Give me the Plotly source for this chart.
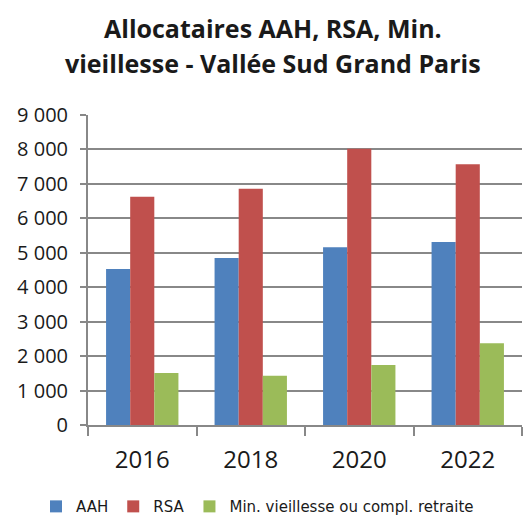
import plotly.graph_objects as go

years = ["2016", "2018", "2020", "2022"]
aah = [4530, 4850, 5160, 5310]
rsa = [6630, 6860, 8020, 7570]
min_vieillesse = [1510, 1430, 1740, 2370]
series_names = ["AAH", "RSA", "Min. vieillesse ou compl. retraite"]
colors = ["#4F81BD", "#C0504D", "#9BBB59"]
y_ticks = [0, 1000, 2000, 3000, 4000, 5000, 6000, 7000, 8000, 9000]
y_tick_labels = ["0", "1 000", "2 000", "3 000", "4 000", "5 000", "6 000", "7 000", "8 000", "9 000"]
title_lines = ["Allocataires AAH, RSA, Min.", "vieillesse - Vallée Sud Grand Paris"]

fig = go.Figure()
for name, vals, col in zip(series_names, [aah, rsa, min_vieillesse], colors):
    fig.add_trace(go.Bar(x=years, y=vals, name=name, marker=dict(color=col, line=dict(width=0))))

for i, line in enumerate(title_lines):
    fig.add_annotation(
        text=line, xref="paper", yref="paper",
        x=(273 - 88) / 434, y=1 + (115 - (28 + 35 * i)) / 310.3,
        xanchor="center", yanchor="middle", showarrow=False,
        font=dict(family="Open Sans", size=25, color="#1a1a1a", weight="bold"),
    )

fig.update_layout(
    width=523, height=518,
    paper_bgcolor="white", plot_bgcolor="white",
    margin=dict(l=88, r=1, t=115, b=93, autoexpand=False),
    barmode="group", bargap=0.333, bargroupgap=0,
    font=dict(family="Open Sans", color="#1a1a1a"),
    showlegend=True,
    legend=dict(
        orientation="h", x=(36 - 88) / 434, xanchor="left",
        y=-(507 - 425.3) / 310.3, yanchor="middle",
        font=dict(family="DejaVu Sans", size=15, color="#1a1a1a"),
        itemwidth=30, tracegroupgap=0, traceorder="normal",
    ),
)
fig.update_xaxes(
    type="category", showline=True, linecolor="#888888", linewidth=2,
    ticks="outside", tickson="boundaries", ticklen=9, tickcolor="#888888", tickwidth=2,
    tickfont=dict(family="Open Sans", size=24, color="#1a1a1a"),
    ticklabelstandoff=12,
    showgrid=False, automargin=False,
)
fig.update_yaxes(
    range=[0, 9000], tickvals=y_ticks, ticktext=y_tick_labels,
    showline=True, linecolor="#888888", linewidth=2,
    ticks="outside", ticklen=6, tickcolor="#888888", tickwidth=2,
    showgrid=True, gridcolor="#888888", gridwidth=2,
    tickfont=dict(family="Open Sans", size=20, color="#1a1a1a"),
    ticklabelstandoff=8,
    zeroline=False, automargin=False,
)
fig.write_html(
    "out.html",
    config={"displayModeBar": False},
    post_script="document.body.style.margin='0';document.body.style.overflow='hidden';",
)
